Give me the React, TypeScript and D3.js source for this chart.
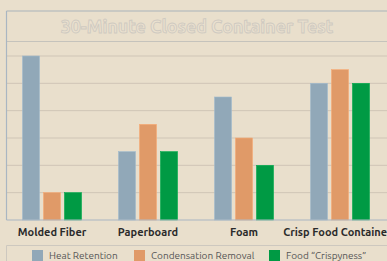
import { useEffect, useRef } from 'react';
import * as d3 from 'd3';

const categories = ['Molded Fiber', 'Paperboard', 'Foam', 'Crisp Food Containers'];
const seriesNames = ['Heat Retention', 'Condensation Removal', 'Food \u201cCrispyness\u201d'];
const heatRetention = [6, 2.5, 4.5, 5];
const condensationRemoval = [1, 3.5, 3, 5.5];
const foodCrispyness = [1, 2.5, 2, 5];
const gridTicks = [0, 1, 2, 3, 4, 5, 6];
const colors = ['#91a8b8', '#e09a68', '#009a44'];

export default function App() {
  const svgRef = useRef<SVGSVGElement>(null);

  useEffect(() => {
    if (!svgRef.current) return;
    const svg = d3.select(svgRef.current);
    svg.selectAll('*').remove();

    const W = 387, H = 261;
    const left = 6.5, top = 11, bottom = 220;
    const font = 'Ubuntu, "Open Sans", "DejaVu Sans", sans-serif';

    svg.append('rect').attr('width', W).attr('height', H).attr('fill', '#e9dfcc');

    const x = d3.scaleBand<string>().domain(categories).range([4, 388]);
    const inner = d3.scaleBand<number>().domain([0, 1, 2]).range([0, 59]).paddingInner(0.19);
    const y = d3.scaleLinear().domain([0, 6]).range([bottom, 56]);

    // grid
    svg.append('g').selectAll('line').data(gridTicks.slice(1)).join('line')
      .attr('x1', left).attr('x2', W).attr('y1', d => y(d)).attr('y2', d => y(d))
      .attr('stroke', '#cfc5b6').attr('stroke-width', 1);

    // title box
    svg.append('line').attr('x1', left).attr('x2', W).attr('y1', 41.5).attr('y2', 41.5)
      .attr('stroke', '#c5c3bc').attr('stroke-width', 1);
    svg.append('line').attr('x1', left).attr('x2', W).attr('y1', top).attr('y2', top)
      .attr('stroke', '#a9b3ba').attr('stroke-width', 1.2);
    svg.append('line').attr('x1', left).attr('x2', left).attr('y1', top).attr('y2', bottom)
      .attr('stroke', '#a9b6c2').attr('stroke-width', 1.2);

    svg.append('text').attr('x', 197).attr('y', 32.5)
      .attr('text-anchor', 'middle').attr('font-family', font).attr('font-weight', 'bold')
      .attr('font-size', 17.8).attr('fill', '#ebe1cf').attr('stroke', '#cfcac1').attr('stroke-width', 0.9)
      .text('30-Minute Closed Container Test');

    const series = [heatRetention, condensationRemoval, foodCrispyness];
    const gBars = svg.append('g');
    categories.forEach((c, ci) => {
      const cx = (x(c) ?? 0) + x.bandwidth() / 2 - 29.5;
      series.forEach((s, si) => {
        gBars.append('rect')
          .attr('x', cx + (inner(si) ?? 0)).attr('width', inner.bandwidth())
          .attr('y', y(s[ci])).attr('height', bottom - y(s[ci]))
          .attr('fill', colors[si])
          .attr('stroke', d3.color(colors[si])!.brighter(0.3).toString()).attr('stroke-width', 0.6);
      });
    });

    // axis line
    svg.append('line').attr('x1', left).attr('x2', W).attr('y1', bottom).attr('y2', bottom)
      .attr('stroke', '#a9b6c2').attr('stroke-width', 1.2);

    svg.append('g').selectAll('text').data(categories).join('text')
      .attr('x', d => (x(d) ?? 0) + x.bandwidth() / 2).attr('y', 236)
      .attr('text-anchor', 'middle').attr('font-family', font).attr('font-weight', 'bold')
      .attr('font-size', 11).attr('fill', '#2b2b2b').text(d => d);

    // legend
    svg.append('line').attr('x1', left).attr('x2', W).attr('y1', 245.5).attr('y2', 245.5)
      .attr('stroke', '#cdc8bf');
    svg.append('line').attr('x1', left).attr('x2', left).attr('y1', 245.5).attr('y2', H)
      .attr('stroke', '#cdc8bf');
    const legendX = [32, 134, 269];
    const lg = svg.append('g').selectAll('g').data(seriesNames).join('g')
      .attr('transform', (_, i) => `translate(${legendX[i]},250)`);
    lg.append('rect').attr('width', 11).attr('height', 11).attr('fill', (_, i) => colors[i]);
    lg.append('text').attr('x', 17).attr('y', 9).attr('font-family', font)
      .attr('font-size', 10).attr('fill', '#555').text(d => d);
  }, []);

  return (
    <svg ref={svgRef} width={387} height={261}
      style={{ position: 'absolute', left: 0, top: 0, display: 'block' }} />
  );
}
